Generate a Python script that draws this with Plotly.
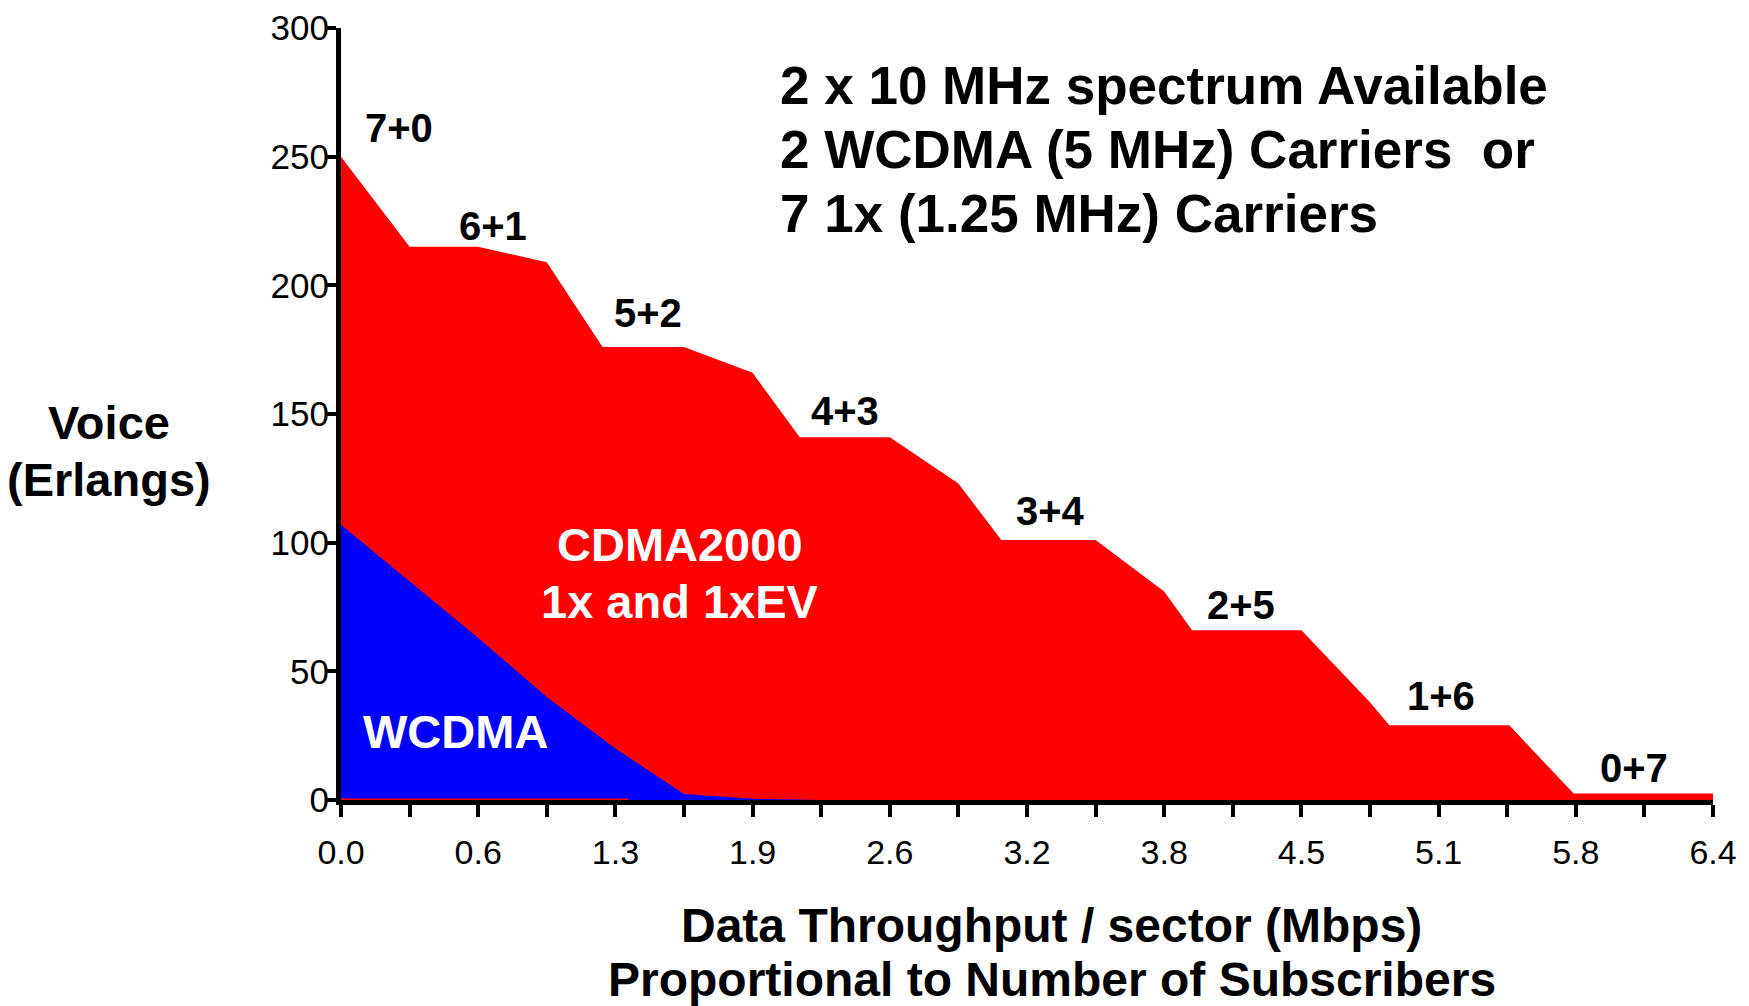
import plotly.graph_objects as go

# ---- data ----
throughput_cdma = [0.0, 0.32, 0.64, 0.96, 1.22, 1.60, 1.92, 2.14, 2.56, 2.88, 3.08, 3.52,
                   3.84, 3.97, 4.48, 4.80, 4.89, 5.45, 5.75, 6.40]
voice_cdma = [250, 215, 215, 209, 176, 176, 166, 141, 141, 123, 101, 101,
              81, 66, 66, 38, 29, 29, 2.5, 2.5]

throughput_wcdma = [0.0, 0.32, 0.64, 0.96, 1.28, 1.60, 1.92, 2.24]
voice_wcdma = [107, 85, 63, 40, 20, 2.3, 0.5, 0]

combo_labels = ["7+0", "6+1", "5+2", "4+3", "3+4", "2+5", "1+6", "0+7"]

tick_values = [0.32 * i for i in range(21)]
tick_labels = ["0.0", "", "0.6", "", "1.3", "", "1.9", "", "2.6", "", "3.2", "",
               "3.8", "", "4.5", "", "5.1", "", "5.8", "", "6.4"]

title_lines = ["2 x 10 MHz spectrum Available",
               "2 WCDMA (5 MHz) Carriers\u00a0 or",
               "7 1x (1.25 MHz) Carriers"]

FONT = "Liberation Sans, Arial, Helvetica, sans-serif"

fig = go.Figure()
fig.add_trace(go.Scatter(x=throughput_cdma, y=voice_cdma, mode="lines", fill="tozeroy",
                         fillcolor="#FF0000", line=dict(width=0, color="#FF0000"),
                         hoverinfo="skip", showlegend=False))
fig.add_trace(go.Scatter(x=throughput_wcdma, y=voice_wcdma, mode="lines", fill="tozeroy",
                         fillcolor="#0000FF", line=dict(width=0, color="#0000FF"),
                         hoverinfo="skip", showlegend=False))

# red strip along the baseline at the left
fig.add_shape(type="line", x0=0, x1=1.34, y0=0, y1=0, xref="x", yref="y",
              line=dict(color="#FF0000", width=3), layer="above")

annotations = []
combo_pos = [(0.27, 261.0), (0.71, 223.1), (1.43, 189.1), (2.35, 151.0),
             (3.31, 112.2), (4.20, 75.8), (5.13, 40.6), (6.03, 12.6)]
for lab, (cx, cy) in zip(combo_labels, combo_pos):
    annotations.append(dict(x=cx, y=cy, xref="x", yref="y", text=lab, showarrow=False,
                            xanchor="center", yanchor="middle",
                            font=dict(family=FONT, size=40, color="black", weight="bold")))

for line, ty in zip(title_lines, [277.5, 252.7, 227.9]):
    annotations.append(dict(x=2.04, y=ty, xref="x", yref="y", text=line, showarrow=False,
                            xanchor="left", yanchor="middle",
                            font=dict(family=FONT, size=53, color="black", weight="bold")))

for line, ty in zip(["CDMA2000", "1x and 1xEV"], [99.4, 77.2]):
    annotations.append(dict(x=1.58, y=ty, xref="x", yref="y", text=line, showarrow=False,
                            xanchor="center", yanchor="middle",
                            font=dict(family=FONT, size=47, color="white", weight="bold")))

annotations.append(dict(x=0.536, y=26.6, xref="x", yref="y", text="WCDMA", showarrow=False,
                        xanchor="center", yanchor="middle",
                        font=dict(family=FONT, size=47, color="white", weight="bold")))

for line, py in zip(["Voice", "(Erlangs)"], [0.4885, 0.4152]):
    annotations.append(dict(x=-0.169, y=py, xref="paper", yref="paper", text=line,
                            showarrow=False, xanchor="center", yanchor="middle",
                            font=dict(family=FONT, size=47, color="black", weight="bold")))

for line, py in zip(["Data Throughput / sector (Mbps)",
                     "Proportional to Number of Subscribers"], [-0.1625, -0.2325]):
    annotations.append(dict(x=0.518, y=py, xref="paper", yref="paper", text=line,
                            showarrow=False, xanchor="center", yanchor="middle",
                            font=dict(family=FONT, size=48, color="black", weight="bold")))

# page body has an 8px margin, so the figure is offset by 8px inside the window
fig.update_layout(
    width=1733, height=998,
    margin=dict(l=333, r=28, t=20, b=206, autoexpand=False),
    paper_bgcolor="white", plot_bgcolor="white",
    showlegend=False,
    annotations=annotations,
    xaxis=dict(range=[0, 6.4], tickmode="array", tickvals=tick_values, ticktext=tick_labels,
               automargin=False,
               showgrid=False, zeroline=False, showline=True, linecolor="black", linewidth=5,
               ticks="outside", ticklen=12, tickwidth=4, tickcolor="black",
               tickfont=dict(family=FONT, size=34, color="black"),
               ticklabelstandoff=6),
    yaxis=dict(range=[0, 300], tickmode="array", tickvals=[0, 50, 100, 150, 200, 250, 300],
               automargin=False,
               showgrid=False, zeroline=False, showline=True, linecolor="black", linewidth=5,
               ticks="outside", ticklen=9, tickwidth=4, tickcolor="black",
               tickfont=dict(family=FONT, size=35, color="black"),
               ticklabelstandoff=-9),
)

fig.write_html("out.html")
